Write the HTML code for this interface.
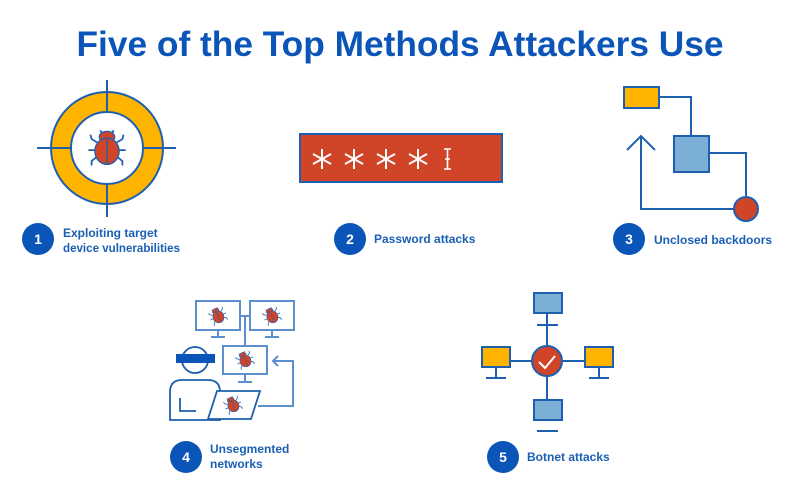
<!DOCTYPE html>
<html><head><meta charset="utf-8"><style>
html,body{margin:0;padding:0;background:#fff;width:801px;height:501px;overflow:hidden}
svg text{font-family:"Liberation Sans",sans-serif}
</style></head><body>
<svg width="801" height="501" viewBox="0 0 801 501" xmlns="http://www.w3.org/2000/svg">
<defs>
<g id="bug">
  <g stroke="#1f5fb0" stroke-width="1.6" fill="none">
    <path d="M-4,-13 L-6,-17 M4,-13 L6,-17"/>
    <path d="M-9,-6 L-14,-9 L-15,-13 M9,-6 L14,-9 L15,-13"/>
    <path d="M-10,1 L-17,1 M10,1 L17,1"/>
    <path d="M-9,7 L-14,11 L-14,15 M9,7 L14,11 L14,15"/>
  </g>
  <ellipse cx="0" cy="-11" rx="7" ry="5" fill="#d04427" stroke="#1f5fb0" stroke-width="1.2"/>
  <ellipse cx="0" cy="2" rx="11" ry="12" fill="#d04427" stroke="#1f5fb0" stroke-width="1.2"/>
  <line x1="0" y1="-9" x2="0" y2="14" stroke="#1f5fb0" stroke-width="1.2"/>
</g>
<g id="sbug">
  <g transform="rotate(-25) scale(0.5)"><use href="#bug"/></g>
</g>
<path id="ast" d="M0,-10 V10 M-9,-5 L9,5 M-9,5 L9,-5"/>
</defs>

<text x="400" y="56" text-anchor="middle" font-size="35" font-weight="bold" fill="#0b55b8" textLength="647" lengthAdjust="spacingAndGlyphs">Five of the Top Methods Attackers Use</text>

<!-- 1 target -->
<circle cx="107" cy="148" r="56" fill="#ffb400" stroke="#1f5fb0" stroke-width="2"/>
<circle cx="107" cy="148" r="36" fill="#fff" stroke="#1f5fb0" stroke-width="2"/>
<g stroke="#1f5fb0" stroke-width="2">
<line x1="37" y1="148" x2="71" y2="148"/><line x1="143" y1="148" x2="176" y2="148"/>
<line x1="107" y1="80" x2="107" y2="112"/><line x1="107" y1="184" x2="107" y2="217"/>
</g>
<use href="#bug" transform="translate(107,149) scale(1.1)"/>

<!-- 2 password -->
<rect x="300" y="134" width="202" height="48" fill="#d04427" stroke="#1f5fb0" stroke-width="2"/>
<g stroke="#fff" stroke-width="2" fill="none">
<use href="#ast" transform="translate(322,159)"/>
<use href="#ast" transform="translate(354,159)"/>
<use href="#ast" transform="translate(386,159)"/>
<use href="#ast" transform="translate(418,159)"/>
<path d="M444,149 H451 M447.5,149 V169 M444,169 H451 M445,159 H450" stroke-width="1.6"/>
</g>

<!-- 3 backdoors -->
<g stroke="#1f5fb0" stroke-width="2" fill="none">
<path d="M659,97 H691 V136"/>
<path d="M709,153 H746 V197"/>
<path d="M734,209 H641 V137"/>
<path d="M627,150 L641,136 L655,150"/>
</g>
<rect x="624" y="87" width="35" height="21" fill="#ffb400" stroke="#1f5fb0" stroke-width="2"/>
<rect x="674" y="136" width="35" height="36" fill="#7bafd6" stroke="#1f5fb0" stroke-width="2"/>
<circle cx="746" cy="209" r="12" fill="#d04427" stroke="#1f5fb0" stroke-width="2"/>

<!-- 4 networks -->
<g stroke="#5b8fd0" stroke-width="2" fill="#fff">
<path d="M240,316 H250 M245,316 V346" fill="none"/>
<rect x="196" y="301" width="44" height="29"/>
<rect x="250" y="301" width="44" height="29"/>
<path d="M218,330 V336 M211,337 H225 M272,330 V336 M265,337 H279" fill="none"/>
<rect x="223" y="346" width="44" height="28"/>
<path d="M245,374 V381 M238,382 H252" fill="none"/>
<path d="M258,406 H293 V361 H273 M278,356 L273,361 L278,366" fill="none"/>
</g>
<g stroke="#1f5fb0" stroke-width="1.8" fill="#fff">
<path d="M170,420 V392 Q170,380 182,380 H208 Q220,380 220,392 V420 Z"/>
<path d="M180,398 V411 H196" fill="none"/>
<circle cx="195" cy="360" r="13"/>
<path d="M217,391 H260 L251,419 H208 Z"/>
</g>
<rect x="176" y="354" width="39" height="9" fill="#0b55b8"/>
<use href="#sbug" transform="translate(218,316)"/>
<use href="#sbug" transform="translate(272,316)"/>
<use href="#sbug" transform="translate(245,360)"/>
<use href="#sbug" transform="translate(233,405)"/>

<!-- 5 botnet -->
<g stroke="#1f5fb0" stroke-width="2" fill="none">
<path d="M510,361 H585 M547,313 V420"/>
<path d="M537,325 H558 M537,431 H558 M486,378 H506 M589,378 H609 M496,367 V378 M599,367 V378"/>
</g>
<rect x="534" y="293" width="28" height="20" fill="#7bafd6" stroke="#1f5fb0" stroke-width="2"/>
<rect x="534" y="400" width="28" height="20" fill="#7bafd6" stroke="#1f5fb0" stroke-width="2"/>
<rect x="482" y="347" width="28" height="20" fill="#ffb400" stroke="#1f5fb0" stroke-width="2"/>
<rect x="585" y="347" width="28" height="20" fill="#ffb400" stroke="#1f5fb0" stroke-width="2"/>
<circle cx="547" cy="361" r="15" fill="#d04427" stroke="#1f5fb0" stroke-width="2"/>
<path d="M539,362 L545,368 L555,356" stroke="#fff" stroke-width="2" fill="none"/>

<!-- badges -->
<g fill="#0b55b8">
<circle cx="38" cy="239" r="16"/><circle cx="350" cy="239" r="16"/><circle cx="629" cy="239" r="16"/>
<circle cx="186" cy="457" r="16"/><circle cx="503" cy="457" r="16"/>
</g>
<g fill="#fff" font-size="14" font-weight="bold" text-anchor="middle">
<text x="38" y="244">1</text><text x="350" y="244">2</text><text x="629" y="244">3</text>
<text x="186" y="462">4</text><text x="503" y="462">5</text>
</g>
<g fill="#1a5fb4" font-size="12" font-weight="bold">
<text x="63" y="237">Exploiting target</text>
<text x="63" y="252" textLength="117" lengthAdjust="spacingAndGlyphs">device vulnerabilities</text>
<text x="374" y="243">Password attacks</text>
<text x="654" y="244">Unclosed backdoors</text>
<text x="210" y="453">Unsegmented</text>
<text x="210" y="468">networks</text>
<text x="527" y="461">Botnet attacks</text>
</g>
</svg>
</body></html>
